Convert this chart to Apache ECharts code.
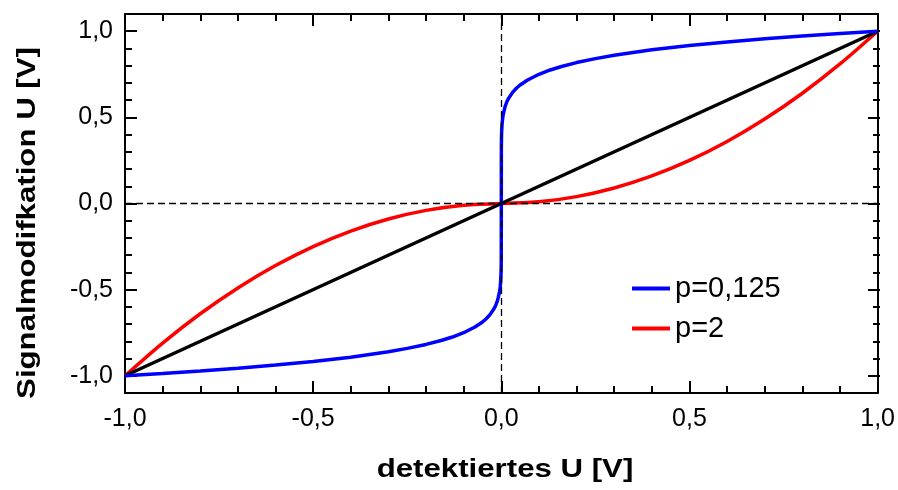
<!DOCTYPE html>
<html>
<head>
<meta charset="utf-8">
<script src="https://cdn.jsdelivr.net/npm/echarts@6/dist/echarts.min.js"></script>
<style>
  html, body { margin: 0; padding: 0; background: #fff; }
  #chart { width: 898px; height: 490px; }
</style>
</head>
<body>
<div id="chart"></div>
<script>
// p = 0,125 (blau)
var blueX = [-1, -0.9, -0.8, -0.7, -0.6, -0.5, -0.4, -0.3, -0.25, -0.2, -0.16, -0.13, -0.1, -0.07, -0.05, -0.04, -0.03, -0.02, -0.015, -0.01, -0.005, -0.003, -0.002, -0.001, -0.0005, -0.0001,
             0, 0.0001, 0.0005, 0.001, 0.002, 0.003, 0.005, 0.01, 0.015, 0.02, 0.03, 0.04, 0.05, 0.07, 0.1, 0.13, 0.16, 0.2, 0.25, 0.3, 0.4, 0.5, 0.6, 0.7, 0.8, 0.9, 1];
var blueY = [-1.0, -0.987, -0.972, -0.956, -0.938, -0.917, -0.892, -0.860, -0.841, -0.818, -0.795, -0.775, -0.750, -0.717, -0.688, -0.669, -0.645, -0.613, -0.592, -0.562, -0.516, -0.484, -0.460, -0.422, -0.387, -0.316,
             0, 0.316, 0.387, 0.422, 0.460, 0.484, 0.516, 0.562, 0.592, 0.613, 0.645, 0.669, 0.688, 0.717, 0.750, 0.775, 0.795, 0.818, 0.841, 0.860, 0.892, 0.917, 0.938, 0.956, 0.972, 0.987, 1.0];

// p = 2 (rot)
var redX = [-1, -0.9, -0.8, -0.7, -0.6, -0.5, -0.4, -0.3, -0.2, -0.1, 0, 0.1, 0.2, 0.3, 0.4, 0.5, 0.6, 0.7, 0.8, 0.9, 1];
var redY = [-1, -0.81, -0.64, -0.49, -0.36, -0.25, -0.16, -0.09, -0.04, -0.01, 0, 0.01, 0.04, 0.09, 0.16, 0.25, 0.36, 0.49, 0.64, 0.81, 1];

// linear (schwarz)
var blackX = [-1, 1];
var blackY = [-1, 1];

var legendNames = ['p=0,125', 'p=2'];

function zip(xs, ys) {
  var out = [];
  for (var i = 0; i < xs.length; i++) out.push([xs[i], ys[i]]);
  return out;
}

function fmt(v) {
  return v.toFixed(1).replace('.', ',');
}

var FONT = '"Liberation Sans", Arial, sans-serif';

var majorTick = { show: true, inside: true, length: 12, lineStyle: { color: '#000', width: 2 } };
var minorTick = { show: true, splitNumber: 5, length: 7, lineStyle: { color: '#000', width: 2 } };

// Hauptdiagramm: y von -1,1 bis 1,1 ; Skalen-Gitter: y von -1 bis 1 (gleiche Pixel)
var gTop = 14, gBottom = 97, gHeight = 490 - gTop - gBottom;
var pad = gHeight * 0.1 / 2.2;

var dom = document.getElementById('chart');
var myChart = echarts.init(dom, null, { renderer: 'canvas' });

var option = {
  animation: false,
  backgroundColor: '#fff',
  grid: [
    { left: 125, right: 18, top: gTop, bottom: gBottom },
    { left: 125, right: 18, top: gTop + pad, bottom: gBottom + pad }
  ],
  legend: {
    data: legendNames,
    orient: 'vertical',
    left: 627,
    top: 269,
    icon: 'rect',
    itemWidth: 38,
    itemHeight: 4,
    itemGap: 11,
    textStyle: { color: '#000', fontSize: 29, fontFamily: FONT, lineHeight: 28 }
  },
  xAxis: [
    {
      gridIndex: 0, type: 'value', position: 'bottom', min: -1, max: 1, interval: 0.5,
      axisLine: { show: true, onZero: false, lineStyle: { color: '#000', width: 2 } },
      axisTick: majorTick, minorTick: minorTick,
      axisLabel: { show: true, margin: 14, formatter: fmt, showMinLabel: true, showMaxLabel: true,
                   color: '#000', fontSize: 25, fontFamily: FONT },
      splitLine: { show: false }
    },
    {
      gridIndex: 0, type: 'value', position: 'top', min: -1, max: 1, interval: 0.5,
      axisLine: { show: true, onZero: false, lineStyle: { color: '#000', width: 2 } },
      axisTick: majorTick, minorTick: minorTick,
      axisLabel: { show: false },
      splitLine: { show: false }
    },
    { gridIndex: 1, type: 'value', min: -1, max: 1, show: false }
  ],
  yAxis: [
    {
      gridIndex: 0, type: 'value', position: 'left', min: -1.1, max: 1.1,
      axisLine: { show: true, onZero: false, lineStyle: { color: '#000', width: 2 } },
      axisTick: { show: false }, axisLabel: { show: false }, splitLine: { show: false }
    },
    {
      gridIndex: 0, type: 'value', position: 'right', min: -1.1, max: 1.1,
      axisLine: { show: true, onZero: false, lineStyle: { color: '#000', width: 2 } },
      axisTick: { show: false }, axisLabel: { show: false }, splitLine: { show: false }
    },
    {
      gridIndex: 1, type: 'value', position: 'left', min: -1, max: 1, interval: 0.5,
      axisLine: { show: false, onZero: false },
      axisTick: majorTick, minorTick: minorTick,
      axisLabel: { show: true, margin: 12, formatter: fmt, color: '#000', fontSize: 25, fontFamily: FONT },
      splitLine: { show: false }
    },
    {
      gridIndex: 1, type: 'value', position: 'right', min: -1, max: 1, interval: 0.5,
      axisLine: { show: false, onZero: false },
      axisTick: majorTick, minorTick: minorTick,
      axisLabel: { show: false },
      splitLine: { show: false }
    }
  ],
  graphic: [
    {
      type: 'text', x: 28, y: 223, rotation: Math.PI / 2, scaleX: 1.2,
      style: { text: 'Signalmodifkation U [V]', fontSize: 26, fontWeight: 'bold', fontFamily: FONT,
               fill: '#000', align: 'center', verticalAlign: 'middle' }
    },
    {
      type: 'text', x: 505, y: 470, scaleX: 1.2,
      style: { text: 'detektiertes U [V]', fontSize: 26, fontWeight: 'bold', fontFamily: FONT,
               fill: '#000', align: 'center', verticalAlign: 'middle' }
    }
  ],
  series: [
    {
      name: 'p=2', type: 'line', xAxisIndex: 0, yAxisIndex: 0,
      data: zip(redX, redY), smooth: 0.3, symbol: 'none',
      lineStyle: { color: '#ff0000', width: 3.5 }, itemStyle: { color: '#ff0000' }
    },
    {
      name: 'linear', type: 'line', xAxisIndex: 0, yAxisIndex: 0,
      data: zip(blackX, blackY), symbol: 'none',
      lineStyle: { color: '#000', width: 3.5 }, itemStyle: { color: '#000' }
    },
    {
      name: 'p=0,125', type: 'line', xAxisIndex: 0, yAxisIndex: 0,
      data: zip(blueX, blueY), smooth: false, symbol: 'none',
      lineStyle: { color: '#0000ff', width: 3.5 }, itemStyle: { color: '#0000ff' }
    },
    {
      name: 'nulllinien', type: 'line', xAxisIndex: 0, yAxisIndex: 0, data: [], z: 10,
      markLine: {
        silent: true, symbol: 'none', label: { show: false },
        lineStyle: { color: '#000', width: 1.3, type: [7, 4] },
        data: [{ xAxis: 0 }, { yAxis: 0 }]
      }
    }
  ]
};

if (option && typeof option === "object") {
  myChart.setOption(option, true);
}
</script>
</body>
</html>
